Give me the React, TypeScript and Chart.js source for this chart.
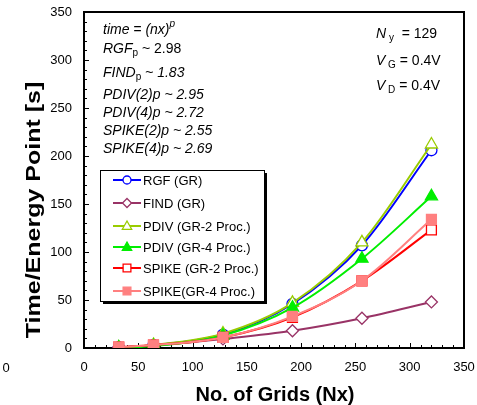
import React, { useEffect, useRef } from "react";
import { Chart, registerables } from "chart.js";

Chart.register(...registerables);

const gridSizes = [32, 64, 128, 192, 256, 320];
const rgfValues = [0.5, 3, 14, 46, 107, 206];
const findValues = [0.7, 2.5, 9.5, 18, 31, 48];
const pdiv2Values = [0.5, 3.2, 15, 47, 110, 212];
const pdiv4Values = [0.4, 2, 13, 42, 93, 158];
const spike2Values = [1, 3, 11, 32, 70, 123];
const spike4Values = [1, 3, 11, 33, 70, 134];

const seriesLabels = [
  "RGF (GR)",
  "FIND (GR)",
  "PDIV (GR-2 Proc.)",
  "PDIV (GR-4 Proc.)",
  "SPIKE (GR-2 Proc.)",
  "SPIKE(GR-4 Proc.)",
];
const axisTicks = [0, 50, 100, 150, 200, 250, 300, 350];

const FONT = "'Liberation Sans', Arial, sans-serif";

type Style = { color: string; shape: string; filled: boolean; radius: number };
const styles: Style[] = [
  { color: "#0000FF", shape: "circle", filled: false, radius: 5.5 },
  { color: "#993366", shape: "rectRot", filled: false, radius: 6 },
  { color: "#99CC00", shape: "triangle", filled: false, radius: 7 },
  { color: "#00EE00", shape: "triangle", filled: true, radius: 7 },
  { color: "#FF0000", shape: "rect", filled: false, radius: 7 },
  { color: "#FF8080", shape: "rect", filled: true, radius: 7 },
];
const seriesValues = [rgfValues, findValues, pdiv2Values, pdiv4Values, spike2Values, spike4Values];

function drawMarker(ctx: CanvasRenderingContext2D, s: Style, x: number, y: number, r: number) {
  ctx.save();
  ctx.beginPath();
  if (s.shape === "circle") {
    ctx.arc(x, y, r, 0, Math.PI * 2);
  } else if (s.shape === "rectRot") {
    ctx.moveTo(x, y - r);
    ctx.lineTo(x + r, y);
    ctx.lineTo(x, y + r);
    ctx.lineTo(x - r, y);
    ctx.closePath();
  } else if (s.shape === "triangle") {
    const h = r * 1.5;
    ctx.moveTo(x, y - h * 0.6);
    ctx.lineTo(x + r * 0.85, y + h * 0.4);
    ctx.lineTo(x - r * 0.85, y + h * 0.4);
    ctx.closePath();
  } else {
    const a = r * 0.707;
    ctx.rect(x - a, y - a, 2 * a, 2 * a);
  }
  ctx.fillStyle = s.filled ? s.color : "#ffffff";
  ctx.fill();
  ctx.strokeStyle = s.color;
  ctx.lineWidth = 1.3;
  ctx.stroke();
  ctx.restore();
}

type Seg = [string, string, number];
function drawRich(ctx: CanvasRenderingContext2D, x: number, y: number, segs: Seg[]) {
  let cx = x;
  for (const [t, f, dy] of segs) {
    ctx.font = f;
    ctx.fillText(t, cx, y + dy);
    cx += ctx.measureText(t).width;
  }
}

const decorPlugin = {
  id: "decor",
  beforeDatasetsDraw(chart: any) {
    const { ctx, chartArea: a, scales } = chart;
    ctx.save();
    ctx.strokeStyle = "#000";
    ctx.lineWidth = 1;
    for (let v = 0; v <= 350; v += 10) {
      const len = v % 50 === 0 ? 5 : 3;
      const py = Math.round(scales.y.getPixelForValue(v)) + 0.5;
      ctx.beginPath();
      ctx.moveTo(a.left, py);
      ctx.lineTo(a.left + len, py);
      ctx.stroke();
      const px = Math.round(scales.x.getPixelForValue(v)) + 0.5;
      ctx.beginPath();
      ctx.moveTo(px, a.bottom);
      ctx.lineTo(px, a.bottom - len);
      ctx.stroke();
    }
    ctx.lineWidth = 2;
    ctx.strokeRect(a.left, a.top, a.right - a.left, a.bottom - a.top);
    ctx.restore();
  },
  afterDraw(chart: any) {
    const { ctx } = chart;
    ctx.save();
    ctx.fillStyle = "#000";
    ctx.textBaseline = "alphabetic";
    ctx.textAlign = "left";

    ctx.font = `bold 20px ${FONT}`;
    ctx.textAlign = "center";
    ctx.fillText("No. of Grids (Nx)", 275, 401);
    ctx.save();
    ctx.translate(40, 210);
    ctx.rotate(-Math.PI / 2);
    ctx.scale(1.25, 1);
    ctx.fillText("Time/Energy Point [s]", 0, 0);
    ctx.restore();

    ctx.font = `13px ${FONT}`;
    ctx.fillText("0", 6, 372);

    ctx.textAlign = "left";
    const it = `italic 14px ${FONT}`;
    const rg = `14px ${FONT}`;
    const itS = `italic 10px ${FONT}`;
    const rgS = `10px ${FONT}`;
    const lx = 103;
    drawRich(ctx, lx, 34, [["time = (nx)", it, 0], ["p", itS, -7]]);
    drawRich(ctx, lx, 53, [["RGF", it, 0], ["p", rgS, 3], [" ~ 2.98", rg, 0]]);
    drawRich(ctx, lx, 77, [["FIND", it, 0], ["p", rgS, 3], [" ~ 1.83", it, 0]]);
    drawRich(ctx, lx, 99, [["PDIV(2)p ~ 2.95", it, 0]]);
    drawRich(ctx, lx, 117, [["PDIV(4)p ~ 2.72", it, 0]]);
    drawRich(ctx, lx, 135, [["SPIKE(2)p ~ 2.55", it, 0]]);
    drawRich(ctx, lx, 153, [["SPIKE(4)p ~ 2.69", it, 0]]);

    const rx = 376;
    drawRich(ctx, rx, 38, [["N", it, 0], [" y", rgS, 3], ["  = 129", rg, 0]]);
    drawRich(ctx, rx, 65, [["V", it, 0], [" G", rgS, 3], [" = 0.4V", rg, 0]]);
    drawRich(ctx, rx, 90, [["V", it, 0], [" D", rgS, 3], [" = 0.4V", rg, 0]]);

    const bx = 100, by = 170, bw = 164, bh = 131;
    ctx.fillStyle = "#000";
    ctx.fillRect(bx + 3, by + 3, bw, bh);
    ctx.fillStyle = "#fff";
    ctx.fillRect(bx, by, bw, bh);
    ctx.strokeStyle = "#000";
    ctx.lineWidth = 1;
    ctx.strokeRect(bx + 0.5, by + 0.5, bw, bh);
    const rows = [180, 203, 226, 247, 268, 291];
    ctx.font = `13px ${FONT}`;
    ctx.textBaseline = "middle";
    seriesLabels.forEach((lab, i) => {
      const s = styles[i];
      const y = rows[i];
      ctx.strokeStyle = s.color;
      ctx.lineWidth = 2;
      ctx.beginPath();
      ctx.moveTo(113, y);
      ctx.lineTo(141, y);
      ctx.stroke();
      drawMarker(ctx, s, 127, y, s.radius - 1.5);
      ctx.fillStyle = "#000";
      ctx.fillText(lab, 143, y + 1);
    });
    ctx.restore();
  },
};

export default function App() {
  const ref = useRef<HTMLCanvasElement | null>(null);
  useEffect(() => {
    if (!ref.current) return;
    const datasets = seriesLabels.map((lab, i) => {
      const s = styles[i];
      return {
        label: lab,
        data: gridSizes.map((x, j) => ({ x, y: seriesValues[i][j] })),
        borderColor: s.color,
        backgroundColor: s.filled ? s.color : "#ffffff",
        pointBackgroundColor: s.filled ? s.color : "#ffffff",
        pointBorderColor: s.color,
        pointBorderWidth: 1.3,
        pointStyle: s.shape,
        pointRadius: s.radius,
        borderWidth: 2,
        cubicInterpolationMode: "monotone" as const,
        fill: false,
      };
    }).reverse();
    const chart = new Chart(ref.current, {
      type: "line",
      data: { datasets },
      plugins: [decorPlugin],
      options: {
        animation: false,
        responsive: false,
        devicePixelRatio: 1,
        layout: { padding: { top: 12, right: 13, left: 0, bottom: 0 } },
        plugins: { legend: { display: false }, tooltip: { enabled: false } },
        scales: {
          x: {
            type: "linear",
            min: 0,
            max: 350,
            afterBuildTicks: (sc: any) => { sc.ticks = axisTicks.map((v) => ({ value: v })); },
            afterFit: (sc: any) => { sc.height = 57; sc.paddingLeft = 0; sc.paddingRight = 0; },
            ticks: { color: "#000", font: { family: FONT, size: 13 }, padding: 12, maxRotation: 0, autoSkip: false },
            grid: { display: false, drawTicks: false },
            border: { display: false },
          },
          y: {
            type: "linear",
            min: 0,
            max: 350,
            afterBuildTicks: (sc: any) => { sc.ticks = axisTicks.map((v) => ({ value: v })); },
            afterFit: (sc: any) => { sc.width = 84; sc.paddingTop = 0; sc.paddingBottom = 0; },
            ticks: { color: "#000", font: { family: FONT, size: 13 }, padding: 12 },
            grid: { display: false, drawTicks: false },
            border: { display: false },
          },
        },
      },
    } as any);
    return () => chart.destroy();
  }, []);
  return (
    <div style={{ position: "fixed", left: 0, top: 0, width: 477, height: 405, background: "#fff" }}>
      <canvas ref={ref} width={477} height={405} />
    </div>
  );
}
